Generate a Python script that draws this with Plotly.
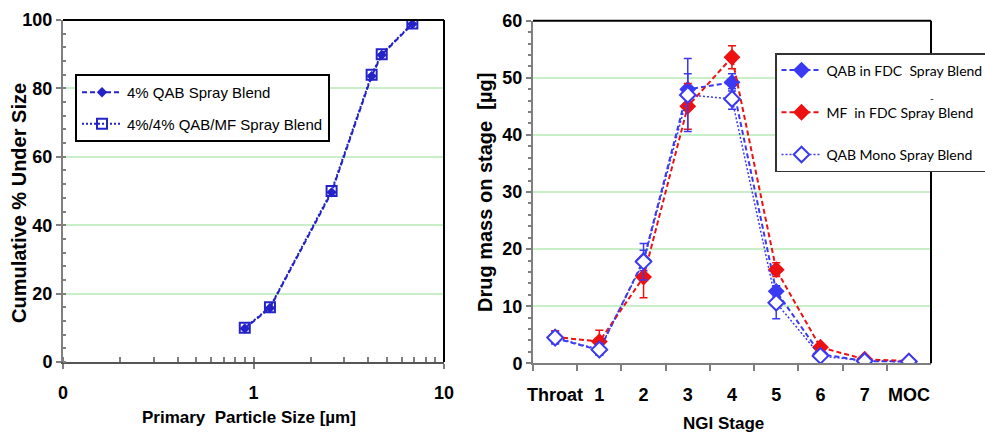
import plotly.graph_objects as go

# ---------------- Data: left chart (particle size distribution) ----------------
particle_size_um = [0.90, 1.22, 2.57, 4.17, 4.71, 6.82]
qab_4_cum = [9.8, 15.8, 49.6, 83.6, 89.8, 98.8]
qab_mf_4_cum = [10.0, 16.0, 50.0, 84.0, 90.0, 99.0]
left_tickvals = [0.1, 1, 10]
left_ticktext = ["0", "1", "10"]

# ---------------- Data: right chart (NGI deposition) ----------------
ngi_stages = ["Throat", "1", "2", "3", "4", "5", "6", "7", "MOC"]
qab_fdc = [4.4, 2.3, 18.0, 48.0, 49.2, 12.6, 1.6, 0.4, 0.3]
qab_fdc_err = [1.0, 0.8, 1.8, 2.7, 1.5, 1.0, 0.4, 0.2, 0.1]
mf_fdc = [4.6, 3.8, 15.1, 45.0, 53.6, 16.4, 2.8, 0.7, 0.4]
mf_fdc_err = [1.1, 2.0, 3.6, 4.0, 2.0, 1.2, 0.4, 0.2, 0.1]
qab_mono = [4.5, 2.4, 17.8, 47.0, 46.3, 10.6, 1.3, 0.4, 0.3]
qab_mono_err = [1.0, 1.0, 3.2, 6.4, 1.8, 2.8, 0.4, 0.2, 0.1]

W, H = 985, 433
BOLDF = "Liberation Sans, Arial, sans-serif"
ARIAL = "Liberation Sans, Arial, sans-serif"
CAL = "Lato, Carlito, Calibri, sans-serif"
GRID = "#c8efc8"
AXC = "#7f7f7f"

LBLUE = "#2323c8"
BLUE = "#3a3af5"
RED = "#ee1111"

fig = go.Figure()

# Left chart traces
fig.add_trace(go.Scatter(
    x=particle_size_um, y=qab_4_cum, xaxis="x", yaxis="y",
    name="4% QAB Spray Blend", mode="lines+markers", legend="legend",
    legendgroup="a",
    line=dict(color=LBLUE, width=2, dash="5px,3px"),
    marker=dict(symbol="diamond", size=8, color=LBLUE),
))
fig.add_trace(go.Scatter(
    x=particle_size_um, y=qab_mf_4_cum, xaxis="x", yaxis="y",
    name="4%/4% QAB/MF Spray Blend", mode="lines+markers", legend="legend",
    legendgroup="b",
    line=dict(color=LBLUE, width=2, dash="2px,2px"),
    marker=dict(symbol="square-open", size=10, color=LBLUE, line=dict(width=2)),
))

# Right chart traces
fig.add_trace(go.Scatter(
    x=ngi_stages, y=qab_fdc, xaxis="x2", yaxis="y2",
    name="QAB in FDC  Spray Blend", mode="lines+markers", legend="legend2",
    legendgroup="c",
    line=dict(color=BLUE, width=2, dash="5px,3px"),
    marker=dict(symbol="diamond", size=13, color=BLUE),
    error_y=dict(type="data", array=qab_fdc_err, color=BLUE, thickness=1.5, width=4),
))
fig.add_trace(go.Scatter(
    x=ngi_stages, y=mf_fdc, xaxis="x2", yaxis="y2",
    name="MF  in FDC Spray Blend", mode="lines+markers", legend="legend2",
    legendgroup="d",
    line=dict(color=RED, width=2, dash="5px,3px"),
    marker=dict(symbol="diamond", size=13, color=RED),
    error_y=dict(type="data", array=mf_fdc_err, color=RED, thickness=1.5, width=4),
))
fig.add_trace(go.Scatter(
    x=ngi_stages, y=qab_mono, xaxis="x2", yaxis="y2",
    name="QAB Mono Spray Blend", mode="lines+markers", legend="legend2",
    legendgroup="e",
    line=dict(color=BLUE, width=1.5, dash="2px,2px"),
    marker=dict(symbol="diamond", size=12, color="white", line=dict(color=BLUE, width=2)),
    error_y=dict(type="data", array=qab_mono_err, color=BLUE, thickness=1.5, width=4),
))

tickfont = dict(family=BOLDF, size=18, color="black", weight="bold")

fig.update_layout(
    width=W, height=H,
    margin=dict(l=0, r=0, t=0, b=0, autoexpand=False),
    paper_bgcolor="white", plot_bgcolor="white",
    showlegend=True,
    xaxis=dict(
        domain=[63 / W, 444 / W], anchor="y", type="log", range=[-1, 1],
        tickvals=left_tickvals, ticktext=left_ticktext, automargin=False,
        ticks="outside", ticklen=5, tickcolor=AXC, tickwidth=1.5,
        minor=dict(ticks="inside", dtick="D1", ticklen=5, tickcolor=AXC, showgrid=False),
        showline=True, linecolor="#555555", linewidth=2, tickangle=0,
        showgrid=False, zeroline=False, tickfont=tickfont, ticklabelstandoff=8,
    ),
    yaxis=dict(
        domain=[71 / H, 413 / H], anchor="x", range=[0, 100], automargin=False,
        tickvals=[0, 20, 40, 60, 80, 100],
        ticks="outside", ticklen=5, tickcolor=AXC, tickwidth=1.5,
        minor=dict(ticks="inside", dtick=4, ticklen=3, tickcolor=AXC, showgrid=False),
        showline=True, linecolor=AXC, linewidth=2,
        showgrid=True, gridcolor=GRID, gridwidth=1.5, zeroline=False,
        tickfont=tickfont,
    ),
    xaxis2=dict(
        domain=[533 / W, 931 / W], anchor="y2", type="category", range=[-0.5, 8.5],
        automargin=False, tickangle=0,
        tickson="boundaries", ticks="outside", ticklen=6, tickcolor=AXC, tickwidth=1.5,
        showline=True, linecolor=AXC, linewidth=2,
        showgrid=False, zeroline=False,
        tickfont=dict(family=BOLDF, size=18, color="black", weight="bold"),
        ticklabelstandoff=14,
    ),
    yaxis2=dict(
        domain=[69.7 / H, 412.3 / H], anchor="x2", range=[0, 60], dtick=10,
        automargin=False,
        ticks="outside", ticklen=5, tickcolor=AXC, tickwidth=1.5,
        minor=dict(ticks="outside", dtick=2, ticklen=3, tickcolor=AXC, showgrid=False),
        showline=True, linecolor=AXC, linewidth=2,
        showgrid=True, gridcolor=GRID, gridwidth=1.5, zeroline=False,
        tickfont=tickfont,
    ),
    legend=dict(
        x=75 / W, y=1 - 74 / H, xanchor="left", yanchor="top",
        bgcolor="white", bordercolor="black", borderwidth=2,
        font=dict(family=ARIAL, size=15, color="black"),
        tracegroupgap=9, itemwidth=40,
    ),
    legend2=dict(
        x=775 / W, y=1 - 53 / H, xanchor="left", yanchor="top",
        bgcolor="white", bordercolor="#333333", borderwidth=1.5,
        font=dict(family=CAL, size=14, color="black"),
        tracegroupgap=21, itemwidth=40,
    ),
)

# Top / right frame lines (black), as in the original
for xd, yd in (("x domain", "y domain"), ("x2 domain", "y2 domain")):
    fig.add_shape(type="line", xref=xd, yref=yd, x0=0, x1=1, y0=1, y1=1,
                  line=dict(color="black", width=2), layer="above")
    fig.add_shape(type="line", xref=xd, yref=yd, x0=1, x1=1, y0=0, y1=1,
                  line=dict(color="black", width=2), layer="above")

fig.add_annotation(text="Cumulative % Under Size", xref="paper", yref="paper",
                   x=19 / W, y=1 - 203 / H, textangle=-90, showarrow=False,
                   font=dict(family=BOLDF, size=20, color="black", weight="bold"),
                   xanchor="center", yanchor="middle")
fig.add_annotation(text="Primary  Particle Size [µm]", xref="paper", yref="paper",
                   x=249 / W, y=1 - 417 / H, showarrow=False,
                   font=dict(family=BOLDF, size=17, color="black", weight="bold"),
                   xanchor="center", yanchor="middle")
fig.add_annotation(text="Drug mass on stage  [µg]", xref="paper", yref="paper",
                   x=485 / W, y=1 - 193 / H, textangle=-90, showarrow=False,
                   font=dict(family=BOLDF, size=20, color="black", weight="bold"),
                   xanchor="center", yanchor="middle")
fig.add_annotation(text="NGI Stage", xref="paper", yref="paper",
                   x=723 / W, y=1 - 423 / H, showarrow=False,
                   font=dict(family=BOLDF, size=17, color="black", weight="bold"),
                   xanchor="center", yanchor="middle")
fig.add_annotation(text="-", xref="paper", yref="paper",
                   x=936 / W, y=1 - 90 / H, showarrow=False,
                   font=dict(family=CAL, size=10, color="black"))

fig.write_html("out.html", config={"displayModeBar": False},
               post_script="document.body.style.margin='0px';document.body.style.overflow='hidden';")
